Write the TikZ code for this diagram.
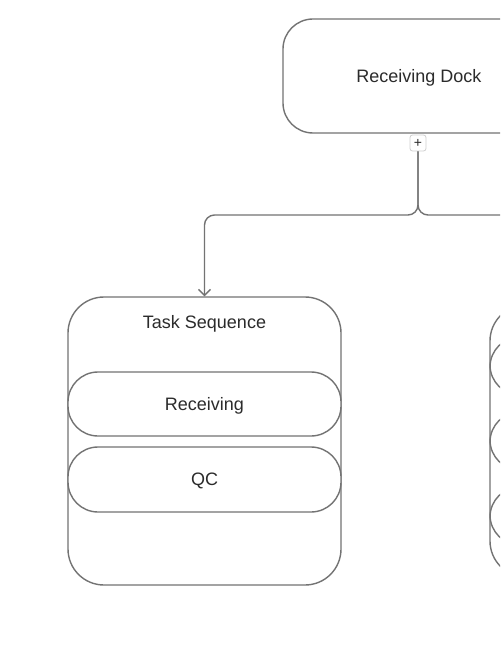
\documentclass[tikz,border=0pt]{standalone}
\usepackage{fontspec}
\setmainfont{Liberation Sans}
\usetikzlibrary{arrows.meta}
\definecolor{edgegray}{HTML}{737373}
\definecolor{txt}{HTML}{2B2B2B}
\definecolor{plusgray}{HTML}{CFCFCF}
\begin{document}
\begin{tikzpicture}[x=1pt,y=-1pt,
  box/.style={draw=edgegray, line width=1.4pt, fill=white, inner sep=0pt, text=txt,
    font=\fontsize{18pt}{21pt}\selectfont, text height=12.8pt, text depth=0pt},
  bigbox/.style={box, rounded corners=30pt, minimum width=272pt, minimum height=114pt},
  container/.style={box, rounded corners=36pt, minimum width=273pt},
  item/.style={box, rounded corners=30pt, minimum width=273pt},
  title/.style={inner sep=0pt, text=txt, font=\fontsize{18pt}{21pt}\selectfont,
    text height=12.8pt, text depth=0pt},
  plusbox/.style={draw=plusgray, line width=0.8pt, fill=white, rounded corners=2.5pt,
    minimum width=16pt, minimum height=16pt, inner sep=0pt, text=txt,
    font=\fontsize{14pt}{14pt}\selectfont},
  conn/.style={draw=edgegray, line width=1.4pt, rounded corners=10pt},
  arr/.style={-{Straight Barb[length=6pt,width=12pt,line width=1.3pt]}}
]
\useasboundingbox (0,0) rectangle (500,652);
\clip (0,0) rectangle (500,652);
\fill[white] (0,0) rectangle (500,652);

% Receiving Dock
\node[bigbox] (dock) at (419,76) {Receiving Dock};
\node[plusbox] (plus) at (418,143) {+};

% Left container
\node[container, minimum height=288pt] (ts) at (204.5,441) {};
\node[title] (tstitle) at (204.5,322) {Task Sequence};
\node[item, minimum height=64pt] (recv) at (204.5,404) {Receiving};
\node[item, minimum height=65pt] (qc) at (204.5,479.5) {QC};

% Right container (mostly off canvas)
\node[container, minimum height=272pt] (rc) at (626.5,441) {};
\node[item, minimum height=58pt] (r1) at (626.5,366) {};
\node[item, minimum height=58pt] (r2) at (626.5,441) {};
\node[item, minimum height=58pt] (r3) at (626.5,516) {};

% connectors
\coordinate (split) at (418,215);
\draw[conn, arr] (plus.south) -- (split) -- (204.5,215) -- (ts.north);
\draw[conn, arr] (plus.south) -- (split) -- (626.5,215) -- (rc.north);
\end{tikzpicture}
\end{document}
